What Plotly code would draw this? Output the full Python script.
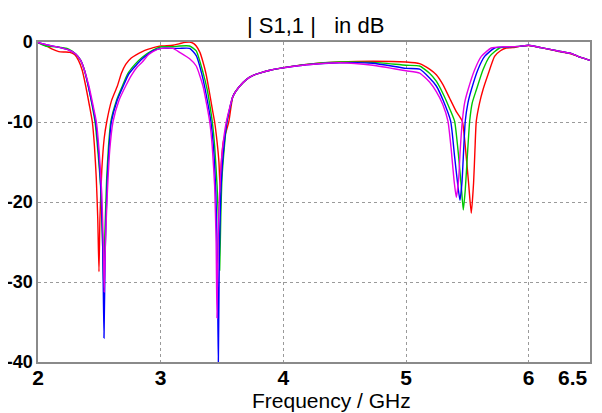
import plotly.graph_objects as go

# S11 curves (frequency in GHz, magnitude in dB)
f_red = [2.0, 2.06, 2.117, 2.17, 2.22, 2.26, 2.30, 2.33, 2.36, 2.389, 2.42, 2.443, 2.46, 2.475, 2.487, 2.497,
         2.505, 2.52, 2.54, 2.56, 2.60, 2.647, 2.68, 2.715, 2.76, 2.80, 2.85, 2.90, 2.94, 3.0, 3.1, 3.155, 3.2,
         3.236, 3.27, 3.29, 3.32, 3.345, 3.37, 3.40, 3.42, 3.44, 3.46, 3.475, 3.485, 3.495, 3.51, 3.555, 3.589,
         3.64, 3.698, 3.75, 3.807, 3.9, 3.97, 4.19, 4.46, 4.73, 5.0, 5.111, 5.192, 5.247, 5.30, 5.355, 5.41,
         5.459, 5.486, 5.51, 5.532, 5.551, 5.562, 5.573, 5.60, 5.627, 5.668, 5.722, 5.77, 5.817, 5.87, 5.926,
         6.0, 6.1, 6.25, 6.35, 6.42, 6.5]
db_red = [-0.1, -0.4, -0.9, -1.2, -1.25, -1.3, -1.6, -2.3, -3.5, -5.5, -8.0, -10, -13, -17, -22, -28.7,
          -22, -16, -12, -10, -7.3, -5.5, -3.9, -2.8, -2.0, -1.6, -1.2, -0.9, -0.7, -0.5, -0.4, -0.2, -0.05,
          0.0, -0.2, -0.5, -1.3, -2.5, -4.0, -6.5, -8.3, -10, -12.5, -15, -18.5, -15, -12.5, -10, -6.8,
          -5.6, -4.7, -4.2, -3.9, -3.5, -3.3, -2.8, -2.5, -2.4, -2.5, -2.7, -3.4, -4.1, -5.3, -7.0, -8.7,
          -9.9, -13.5, -17.6, -21.4, -17.6, -13.5, -9.9, -7.6, -6.0, -4.1, -1.8, -1.1, -0.75, -0.7, -0.55,
          -0.45, -0.7, -1.2, -1.5, -1.9, -2.3]

f_green = [2.0, 2.06, 2.15, 2.25, 2.307, 2.348, 2.38, 2.41, 2.44, 2.465, 2.49, 2.51, 2.525, 2.535, 2.545,
           2.56, 2.575, 2.593, 2.64, 2.688, 2.73, 2.79, 2.85, 2.937, 3.006, 3.1, 3.155, 3.236, 3.29, 3.345,
           3.38, 3.40, 3.421, 3.44, 3.46, 3.475, 3.481, 3.49, 3.50, 3.52, 3.54, 3.589, 3.64, 3.698, 3.75,
           3.807, 3.9, 3.97, 4.19, 4.46, 4.73, 5.0, 5.111, 5.192, 5.247, 5.30, 5.355, 5.396, 5.429, 5.453,
           5.467, 5.483, 5.50, 5.519, 5.540, 5.573, 5.627, 5.682, 5.763, 5.85, 5.926, 6.0, 6.1, 6.25, 6.35,
           6.42, 6.5]
db_green = [-0.1, -0.5, -0.6, -0.9, -1.5, -2.3, -3.6, -5.5, -7.8, -10, -14, -18, -24, -30.5, -24,
            -17, -13, -10, -7.3, -5.5, -4.0, -2.8, -1.9, -1.0, -0.6, -0.6, -0.5, -0.5, -1.1, -3.8,
            -6.0, -7.8, -10, -13, -18, -24, -28.5, -22, -17, -13, -10, -6.8, -5.6, -4.7, -4.2,
            -3.9, -3.5, -3.3, -2.8, -2.5, -2.55, -2.9, -3.0, -3.9, -4.9, -6.4, -8.3, -9.9, -14.3, -18.5,
            -21.0, -18.5, -14.3, -9.9, -7.6, -6.0, -3.5, -1.8, -0.75, -0.6, -0.55, -0.4, -0.7, -1.15, -1.45,
            -1.9, -2.3]

f_blue = [2.0, 2.06, 2.15, 2.25, 2.307, 2.348, 2.38, 2.41, 2.445, 2.47, 2.495, 2.515, 2.528, 2.538, 2.548,
          2.565, 2.58, 2.598, 2.645, 2.695, 2.74, 2.80, 2.85, 2.937, 3.006, 3.1, 3.155, 3.236, 3.29, 3.345,
          3.38, 3.41, 3.43, 3.45, 3.462, 3.470, 3.478, 3.49, 3.51, 3.54, 3.589, 3.64, 3.698, 3.75, 3.807,
          3.9, 3.97, 4.19, 4.46, 4.73, 5.0, 5.111, 5.192, 5.247, 5.30, 5.364, 5.396, 5.423, 5.440, 5.456,
          5.470, 5.483, 5.505, 5.532, 5.586, 5.641, 5.722, 5.82, 5.926, 6.0, 6.1, 6.25, 6.35, 6.42, 6.5]
db_blue = [-0.05, -0.3, -0.6, -1.0, -1.5, -2.3, -3.6, -5.5, -8.0, -10, -14, -19, -26, -37.0, -26,
           -17, -13, -10, -7.3, -5.5, -4.0, -2.9, -2.1, -1.1, -0.8, -0.8, -0.8, -0.8, -1.7, -4.6,
           -7.3, -10, -13, -19, -27, -40.5, -27, -19, -14, -10, -6.8, -5.6, -4.7, -4.2, -3.9,
           -3.5, -3.3, -2.85, -2.6, -2.65, -3.3, -3.4, -4.5, -5.5, -7.2, -9.9, -14.3, -18.0, -19.8, -17.6,
           -13.5, -9.9, -7.6, -6.0, -3.46, -1.8, -0.75, -0.6, -0.55, -0.4, -0.7, -1.15, -1.45, -1.9, -2.3]

f_mag = [2.0, 2.06, 2.15, 2.25, 2.307, 2.348, 2.38, 2.415, 2.45, 2.476, 2.50, 2.52, 2.532, 2.54, 2.55,
         2.565, 2.585, 2.611, 2.66, 2.715, 2.76, 2.81, 2.85, 2.90, 2.937, 3.006, 3.1, 3.155, 3.236, 3.29,
         3.345, 3.375, 3.40, 3.42, 3.44, 3.452, 3.459, 3.468, 3.48, 3.50, 3.535, 3.589, 3.64, 3.698, 3.75,
         3.807, 3.9, 3.97, 4.19, 4.46, 4.73, 5.0, 5.111, 5.192, 5.247, 5.30, 5.342, 5.369, 5.391, 5.410,
         5.429, 5.442, 5.459, 5.478, 5.505, 5.559, 5.614, 5.695, 5.80, 5.926, 6.0, 6.1, 6.25, 6.35, 6.42,
         6.5]
db_mag = [-0.05, -0.3, -0.6, -1.0, -1.5, -2.3, -3.6, -5.5, -8.0, -10, -14, -19, -25, -31.3, -25,
          -19, -13.5, -10, -7.3, -5.5, -4.2, -3.1, -2.5, -1.6, -1.2, -0.8, -0.8, -1.3, -2.1, -3.0,
          -5.5, -7.8, -10, -13, -18, -25, -34.5, -25, -19, -14, -10, -6.8, -5.6, -4.7, -4.2,
          -3.9, -3.5, -3.3, -2.85, -2.6, -2.9, -3.6, -3.9, -5.0, -6.2, -7.8, -9.9, -13.5, -17.2, -19.4,
          -17.2, -13.5, -9.9, -7.6, -6.0, -3.5, -1.8, -0.75, -0.6, -0.55, -0.4, -0.7, -1.15, -1.45, -1.9,
          -2.3]

x_ticks = [2, 3, 4, 5, 6]
x_tick_text = ["2", "3", "4", "5", "6"]
x_end_tick = 6.5
y_ticks = [0, -10, -20, -30, -40]

FONT = "Liberation Sans, Arial, sans-serif"

fig = go.Figure()
curves = [(f_red, db_red, "rgb(255,0,0)"),
          (f_green, db_green, "rgb(0,200,0)"),
          (f_blue, db_blue, "rgb(0,0,255)"),
          (f_mag, db_mag, "rgb(230,0,230)")]
for fx, db, col in curves:
    fig.add_trace(go.Scatter(x=fx, y=db, mode="lines",
                             line=dict(color=col, width=1.4, shape="spline", smoothing=0.5),
                             showlegend=False, hoverinfo="skip"))

fig.update_xaxes(range=[2, 6.5], tickvals=x_ticks, ticktext=x_tick_text,
                 showgrid=True, gridcolor="#9a9a9a", griddash="dot", gridwidth=1,
                 showline=True, linecolor="#8a8a8a", linewidth=1.5, mirror=True,
                 ticks="", zeroline=False, automargin=False, ticklabelstandoff=-4,
                 tickfont=dict(family=FONT, size=21, color="black", weight="bold"))
fig.update_yaxes(range=[-40, 0], tickvals=y_ticks, ticktext=["0", "-10", "-20", "-30", "-40"],
                 showgrid=True, gridcolor="#9a9a9a", griddash="dot", gridwidth=1,
                 showline=True, linecolor="#8a8a8a", linewidth=1.5, mirror=True,
                 ticks="", zeroline=False, automargin=False,
                 tickfont=dict(family=FONT, size=18, color="black", weight="bold"))

# last x label sits flush with the right end of the axis
fig.add_annotation(text=str(x_end_tick), x=x_end_tick, xref="x", y=-0.047, yref="paper",
                   xanchor="right", yanchor="middle", showarrow=False,
                   font=dict(family=FONT, size=21, color="black", weight="bold"))

fig.add_annotation(text="Frequency / GHz", xref="paper", yref="paper", x=0.532, y=-0.12,
                   xanchor="center", yanchor="middle", showarrow=False,
                   font=dict(family=FONT, size=21, color="black"))

# the page body adds an 8px offset, so the figure is sized to fit the window after it
fig.update_layout(
    width=594, height=405,
    margin=dict(l=30, r=12, t=34, b=51),
    paper_bgcolor="white", plot_bgcolor="white",
    title=dict(text="| S1,1 |   in dB", x=0.518, xanchor="center", y=0.958, yref="container",
               yanchor="middle", font=dict(family=FONT, size=22, color="black")),
)

fig.write_html("out.html")
